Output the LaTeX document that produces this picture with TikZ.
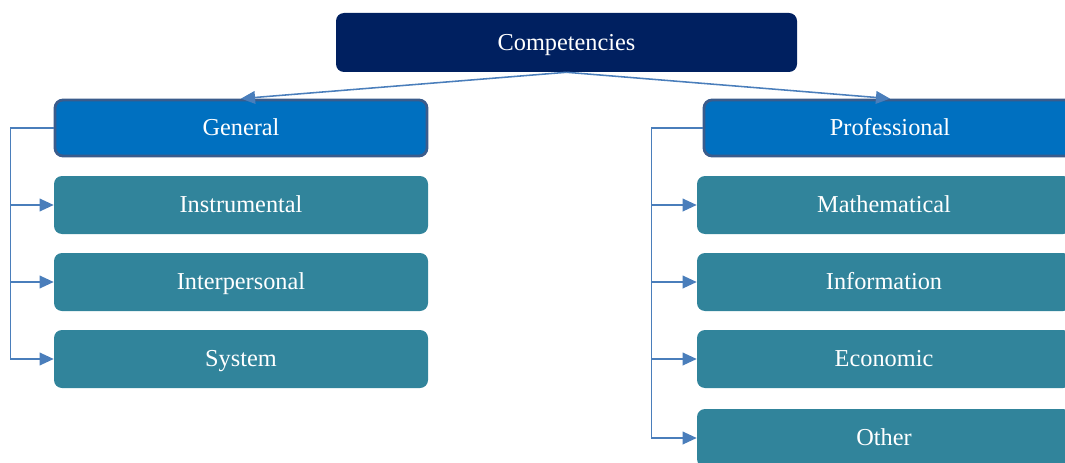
\documentclass[tikz,border=0pt]{standalone}
\usepackage{fontspec}
\setmainfont{Liberation Serif}
\usetikzlibrary{arrows.meta,positioning}

\definecolor{navy}{RGB}{0,32,96}
\definecolor{genblue}{RGB}{0,112,192}
\definecolor{rimblue}{RGB}{58,92,140}
\definecolor{teal}{RGB}{49,132,155}
\definecolor{linkblue}{RGB}{74,126,187}

\tikzset{
  boxbase/.style={rectangle,rounded corners=0.2cm,text=white,
    minimum width=9.35cm,minimum height=1.45cm,text height=2.65ex,text depth=0.3ex,
    font=\fontsize{17.3}{19}\selectfont},
  topbox/.style={boxbase,fill=navy,minimum width=11.525cm,minimum height=1.475cm},
  groupbox/.style={boxbase,fill=genblue,draw=rimblue,line width=2pt,
    minimum width=9.3cm,minimum height=1.4cm},
  itembox/.style={boxbase,fill=teal},
  link/.style={draw=linkblue,line width=1.1pt}
}

\begin{document}
\begin{tikzpicture}[>={Triangle[length=10pt,width=9pt]},node distance=1.925cm]
\useasboundingbox (0,0) rectangle (26.625,-11.55);

\node[topbox]   (comp)  at (14.1625,-1.0625)  {Competencies};

\node[groupbox] (gen)   at (6.025,-3.2)       {General};
\node[itembox]  (instr) [below of=gen]        {Instrumental};
\node[itembox]  (inter) [below of=instr]      {Interpersonal};
\node[itembox]  (sys)   [below of=inter]      {System};

\node[groupbox] (prof)  at (22.25,-3.2)       {Professional};
\node[itembox]  (math)  at (22.1,-5.125)      {Mathematical};
\node[itembox]  (info)  [below of=math]       {Information};
\node[itembox]  (econ)  [below of=info]       {Economic};
\node[itembox]  (other) [below of=econ,yshift=-0.05cm] {Other};

	\draw[link,->] (comp.south) -- (gen.north);
	\draw[link,->] (comp.south) -- (prof.north);

	\draw[link,->] (gen.west) -- ++(-1.075,0) |- (instr.west);
	\draw[link,->] (gen.west) -- ++(-1.075,0) |- (inter.west);
	\draw[link,->] (gen.west) -- ++(-1.075,0) |- (sys.west);

	\draw[link,->] (prof.west) -- ++(-1.275,0) |- (math.west);
	\draw[link,->] (prof.west) -- ++(-1.275,0) |- (info.west);
	\draw[link,->] (prof.west) -- ++(-1.275,0) |- (econ.west);
	\draw[link,->] (prof.west) -- ++(-1.275,0) |- (other.west);
\end{tikzpicture}
\end{document}
